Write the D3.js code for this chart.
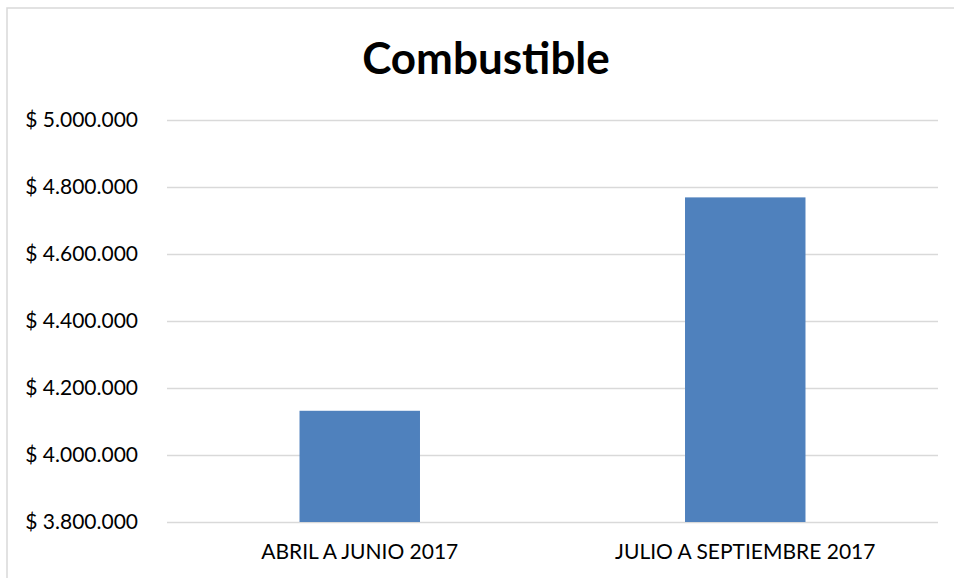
<!DOCTYPE html>
<html>
<head>
<meta charset="utf-8">
<script src="https://cdn.jsdelivr.net/npm/d3@7"></script>
<style>
  body { margin: 0; background: #fff; }
  svg { display: block; font-family: Lato, "Open Sans", sans-serif; }
</style>
</head>
<body>
<script>
// chart values
const categories = ['ABRIL A JUNIO 2017', 'JULIO A SEPTIEMBRE 2017'];
const values = [4132000, 4769000];
const yTicks = [3800000, 4000000, 4200000, 4400000, 4600000, 4800000, 5000000];
const title = 'Combustible';

const W = 954, H = 578;
const margin = { top: 120, right: 16, bottom: 56, left: 167 };
const width = W - margin.left - margin.right;
const height = H - margin.top - margin.bottom;

const svg = d3.select('body')
  .append('svg')
  .attr('width', W)
  .attr('height', H);

// chart area border (runs off the right/bottom edge)
svg.append('rect')
  .attr('x', 7).attr('y', 8)
  .attr('width', 1200).attr('height', 1200)
  .attr('fill', 'none')
  .attr('stroke', '#d9d9d9')
  .attr('stroke-width', 1.5);

svg.append('text')
  .attr('x', 486)
  .attr('y', 74)
  .attr('text-anchor', 'middle')
  .style('font-size', '44px')
  .style('font-weight', 'bold')
  .attr('fill', '#000')
  .text(title);

const g = svg.append('g')
  .attr('transform', `translate(${margin.left},${margin.top})`);

const xScale = d3.scaleBand()
  .domain(categories)
  .range([0, width])
  .paddingInner(0.6875)
  .paddingOuter(0.34375);

const yScale = d3.scaleLinear()
  .domain([3800000, 5000000])
  .range([height, 0]);

const locale = d3.formatLocale({
  decimal: ',', thousands: '.', grouping: [3], currency: ['$ ', '']
});
const fmt = locale.format('$,.0f');

// y axis + gridlines
const yAxis = g.append('g')
  .call(d3.axisLeft(yScale).tickValues(yTicks).tickFormat(fmt)
    .tickSize(-width).tickPadding(29));
yAxis.select('.domain').remove();
yAxis.selectAll('.tick line')
  .attr('stroke', '#d9d9d9')
  .attr('stroke-width', 1.5);
yAxis.selectAll('.tick text')
  .attr('fill', '#000')
  .style('font-size', '21px')
  .style('font-family', 'Lato, "Open Sans", sans-serif');

g.selectAll('.bar')
  .data(values)
  .enter()
  .append('rect')
  .attr('class', 'bar')
  .attr('x', (d, i) => xScale(categories[i]))
  .attr('y', d => yScale(d))
  .attr('width', xScale.bandwidth())
  .attr('height', d => height - yScale(d))
  .attr('fill', '#4f81bd');

// x axis labels
const xAxis = g.append('g')
  .attr('transform', `translate(0,${height})`)
  .call(d3.axisBottom(xScale).tickSize(0).tickPadding(22));
xAxis.select('.domain').remove();
xAxis.selectAll('.tick text')
  .attr('fill', '#000')
  .style('font-size', '21px')
  .style('font-family', 'Lato, "Open Sans", sans-serif');
</script>
</body>
</html>
